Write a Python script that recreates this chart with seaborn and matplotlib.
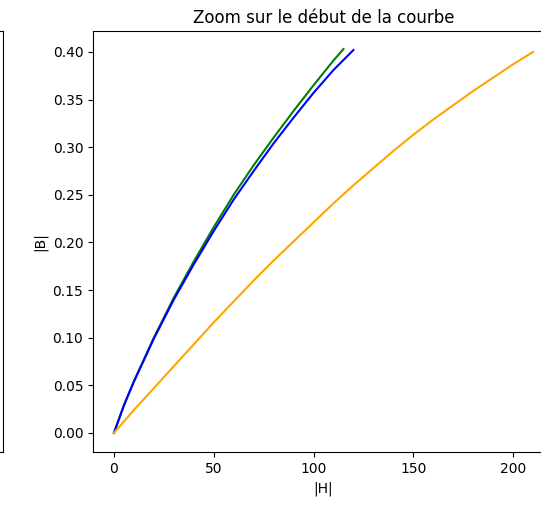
import matplotlib
matplotlib.use("Agg")
import matplotlib.pyplot as plt
import seaborn as sns
import numpy as np

# |H| and |B| samples of the three magnetisation curves (start of the curve)
h_green = [0, 5, 10, 20, 30, 40, 50, 60, 70, 80, 90, 100, 110, 115]
b_green = [0, 0.029, 0.054, 0.100, 0.142, 0.180, 0.216, 0.250, 0.281, 0.310, 0.338, 0.365, 0.391, 0.403]

h_blue = [0, 5, 10, 20, 30, 40, 50, 60, 70, 80, 90, 100, 110, 120]
b_blue = [0, 0.029, 0.054, 0.099, 0.140, 0.177, 0.212, 0.245, 0.275, 0.304, 0.331, 0.357, 0.381, 0.402]

h_orange = [0, 10, 20, 30, 40, 50, 60, 70, 80, 90, 100, 110, 120, 130, 140, 150, 160, 170, 180, 190, 200, 210]
b_orange = [0, 0.024, 0.047, 0.070, 0.093, 0.116, 0.138, 0.160, 0.181, 0.201, 0.221, 0.241,
            0.260, 0.278, 0.296, 0.313, 0.329, 0.344, 0.359, 0.373, 0.387, 0.400]

title = "Zoom sur le début de la courbe"
xlabel = "|H|"
ylabel = "|B|"

fig = plt.figure(figsize=(5.41, 5.05), dpi=100)

# neighbouring panel (only its right edge is in view)
ax_prev = fig.add_axes([-0.5, 0.1050, 0.5 + 3 / 541, 0.8337])
ax_prev.set_xticks([])
ax_prev.set_yticks([])

ax = fig.add_axes([93 / 541, 0.1050, 461 / 541, 0.8337])

sns.lineplot(x=h_green, y=b_green, color="green", estimator=None, sort=False, lw=1.5, ax=ax)
sns.lineplot(x=h_blue, y=b_blue, color="blue", estimator=None, sort=False, lw=1.5, ax=ax)
sns.lineplot(x=h_orange, y=b_orange, color="orange", estimator=None, sort=False, lw=1.5, ax=ax)

ax.set_xlim(-10.5, 220.5)
ax.set_ylim(-0.02, 0.422)
ax.set_xticks([0, 50, 100, 150, 200])
yt = np.round(np.arange(0, 0.41, 0.05), 2)
ax.set_yticks(yt)
ax.set_yticklabels([f"{v:.2f}" for v in yt])
ax.set_title(title, fontsize=12)
ax.set_xlabel(xlabel)
ax.set_ylabel(ylabel)

fig.savefig("out.png", dpi=100)
